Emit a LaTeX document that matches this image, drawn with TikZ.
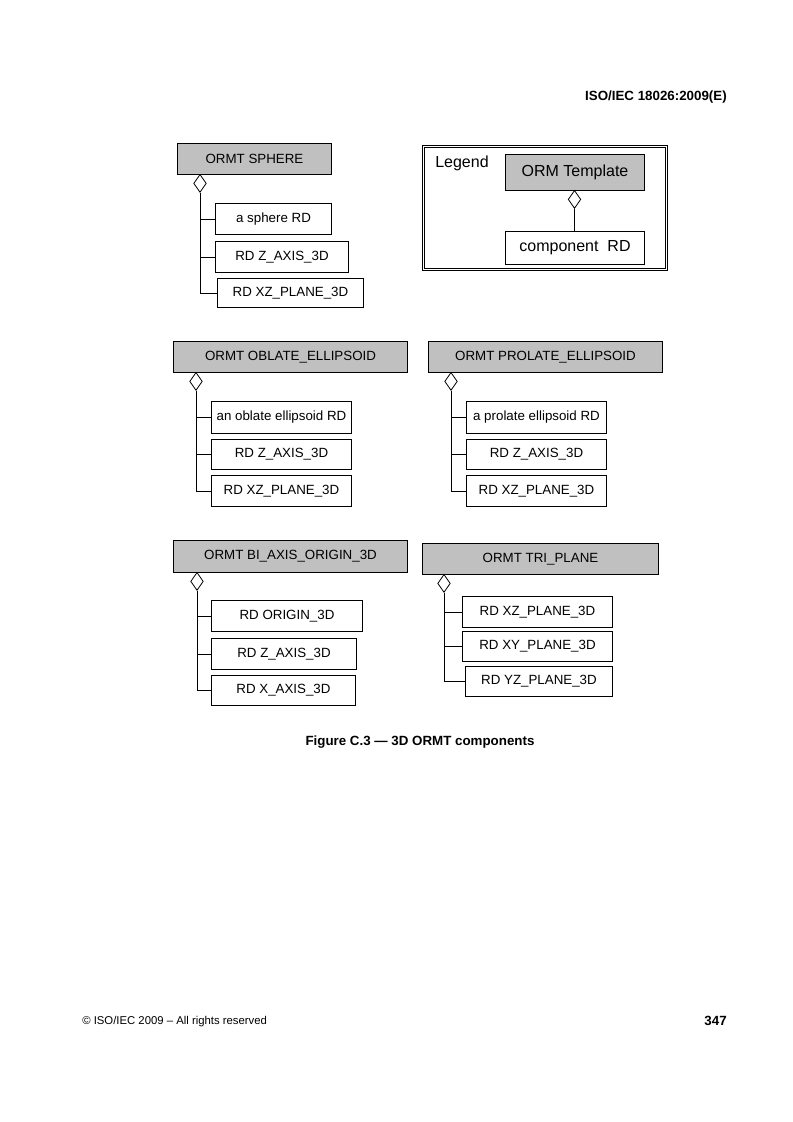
\documentclass[tikz,border=0pt]{standalone}
\usepackage{fontspec}
\setmainfont{Liberation Sans}
\usetikzlibrary{shapes.geometric}
\definecolor{hdrgray}{RGB}{192,192,192}
\newcommand{\ormbox}[7]{\node[#2, minimum width={(#5-#3)*0.75pt}, minimum height={(#6-#4)*0.75pt}] (#1) at (#3,#4) {#7};}
\begin{document}
\begin{tikzpicture}[x=0.75pt,y=-0.75pt,
  hdr/.style={draw, fill=hdrgray, line width=0.75pt, anchor=north west, inner sep=0pt, font=\fontsize{10}{12}\selectfont},
  comp/.style={draw, fill=white, line width=0.75pt, anchor=north west, inner sep=0pt, font=\fontsize{10}{12}\selectfont},
  lhdr/.style={hdr, font=\fontsize{12}{14}\selectfont},
  lcomp/.style={comp, font=\fontsize{12}{14}\selectfont},
  agg/.style={draw, fill=white, shape=diamond, inner sep=0pt, minimum width=9.5pt, minimum height=13.5pt, anchor=north, line width=0.6pt},
  link/.style={line width=0.75pt},
  frame/.style={draw, double, double distance=1.3pt, line width=0.6pt, anchor=north west, inner sep=0pt},
  plain/.style={inner sep=0pt},
]
\useasboundingbox[fill=white] (0,0) rectangle (793,1122);

% page header / footer
\node[plain, anchor=base east, font=\bfseries\fontsize{10}{12}\selectfont] (pagehead) at (727,100.5) {ISO/IEC 18026:2009(E)};
\node[plain, anchor=base west, font=\fontsize{8.5}{10}\selectfont] (copy) at (82,1024.5) {© ISO/IEC 2009 – All rights reserved};
\node[plain, anchor=base east, font=\bfseries\fontsize{10}{12}\selectfont] (pageno) at (727,1025.5) {347};
\node[plain, anchor=base, font=\bfseries\fontsize{10}{12}\selectfont] (caption) at (420,745.5) {Figure C.3 — 3D ORMT components};

% ---------- ORMT SPHERE ----------
\ormbox{sph}{hdr}{177}{143}{331}{174}{ORMT SPHERE}
\node[agg] (sphd) at (200,174) {};
\ormbox{sph1}{comp}{215}{203}{331}{234}{a sphere RD}
\ormbox{sph2}{comp}{215}{241}{348}{272}{RD Z\_AXIS\_3D}
\ormbox{sph3}{comp}{217}{278}{363}{307}{RD XZ\_PLANE\_3D}
\draw[link] (sphd.south) |- (sph1.west);
\draw[link] (sphd.south) |- (sph2.west);
\draw[link] (sphd.south) |- (sph3.west);

% ---------- Legend ----------
\ormbox{leg}{frame}{423}{146}{666}{269}{}
\node[plain, anchor=west, font=\fontsize{12}{14}\selectfont] (legtxt) at (435,163) {Legend};
\ormbox{legt}{lhdr}{505}{154}{644}{190}{ORM Template}
\node[agg] (legd) at (574.5,190) {};
\ormbox{legc}{lcomp}{505}{231}{644}{264}{component\ \ RD}
\draw[link] (legd.south) -- (legd.south |- legc.north);

% ---------- ORMT OBLATE_ELLIPSOID ----------
\ormbox{obl}{hdr}{173}{341}{407}{372}{ORMT OBLATE\_ELLIPSOID}
\node[agg] (obld) at (196,372) {};
\ormbox{obl1}{comp}{211}{401}{351}{433}{an oblate ellipsoid RD}
\ormbox{obl2}{comp}{211}{439}{351}{469}{RD Z\_AXIS\_3D}
\ormbox{obl3}{comp}{211}{475}{351}{506}{RD XZ\_PLANE\_3D}
\draw[link] (obld.south) |- (obl1.west);
\draw[link] (obld.south) |- (obl2.west);
\draw[link] (obld.south) |- (obl3.west);

% ---------- ORMT PROLATE_ELLIPSOID ----------
\ormbox{pro}{hdr}{428}{341}{662}{372}{ORMT PROLATE\_ELLIPSOID}
\node[agg] (prod) at (451,372) {};
\ormbox{pro1}{comp}{466}{401}{606}{433}{a prolate ellipsoid RD}
\ormbox{pro2}{comp}{466}{439}{606}{469}{RD Z\_AXIS\_3D}
\ormbox{pro3}{comp}{466}{475}{606}{506}{RD XZ\_PLANE\_3D}
\draw[link] (prod.south) |- (pro1.west);
\draw[link] (prod.south) |- (pro2.west);
\draw[link] (prod.south) |- (pro3.west);

% ---------- ORMT BI_AXIS_ORIGIN_3D ----------
\ormbox{bia}{hdr}{173}{540}{407}{572}{ORMT BI\_AXIS\_ORIGIN\_3D}
\node[agg] (biad) at (197,572) {};
\ormbox{bia1}{comp}{211}{600}{362}{631}{RD ORIGIN\_3D}
\ormbox{bia2}{comp}{211}{638}{356}{669}{RD Z\_AXIS\_3D}
\ormbox{bia3}{comp}{211}{675}{355}{705}{RD X\_AXIS\_3D}
\draw[link] (biad.south) |- (bia1.west);
\draw[link] (biad.south) |- (bia2.west);
\draw[link] (biad.south) |- (bia3.west);

% ---------- ORMT TRI_PLANE ----------
\ormbox{tri}{hdr}{422}{543}{658}{574}{ORMT TRI\_PLANE}
\node[agg] (trid) at (444,574) {};
\ormbox{tri1}{comp}{462}{596}{612}{627}{RD XZ\_PLANE\_3D}
\ormbox{tri2}{comp}{462}{631}{612}{661}{RD XY\_PLANE\_3D}
\ormbox{tri3}{comp}{465}{666}{612}{696}{RD YZ\_PLANE\_3D}
\draw[link] (trid.south) |- (tri1.west);
\draw[link] (trid.south) |- (tri2.west);
\draw[link] (trid.south) |- (tri3.west);
\end{tikzpicture}
\end{document}
